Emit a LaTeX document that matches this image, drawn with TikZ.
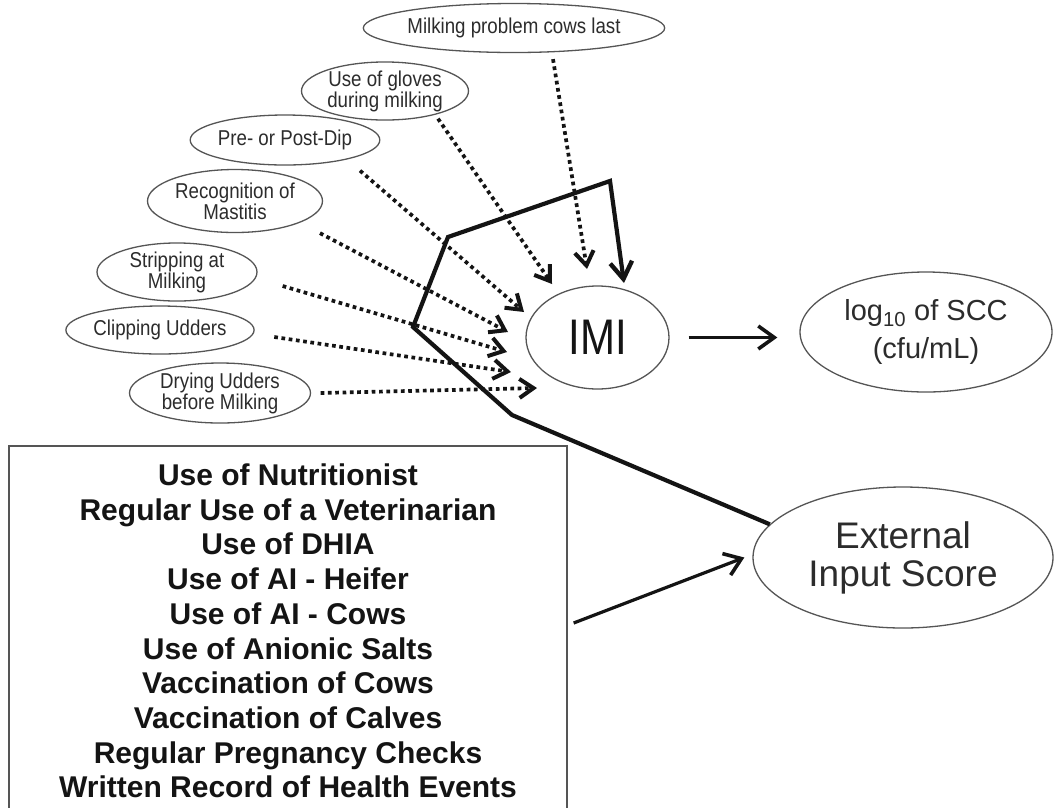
\documentclass[tikz,border=0pt]{standalone}
\usepackage{fontspec}
\setmainfont{Liberation Sans}
\newfontfamily\narrowfont[FakeStretch=0.87]{Liberation Sans}
\newfontfamily\imifont[FakeStretch=0.84]{Liberation Sans}
\usetikzlibrary{shapes.geometric,arrows.meta}
\definecolor{ink}{HTML}{141414}
\definecolor{txt}{HTML}{2C2C2C}
\definecolor{rim}{HTML}{555555}
\begin{document}
\begin{tikzpicture}[x=1pt,y=-1pt,
  oval/.style={ellipse, draw=rim, line width=1.3pt, inner sep=0pt, text=txt, align=center},
  lab/.style={oval, font=\narrowfont\fontsize{21.5}{21}\selectfont},
  dotarrow/.style={draw=ink, line width=3.7pt, dash pattern=on 3.7pt off 3.6pt,
    -{Straight Barb[length=14pt,width=19pt,line width=4pt]}},
  thickpath/.style={draw=ink, line width=4.2pt, line join=miter,
    -{Straight Barb[length=17pt,width=22pt,line width=4.4pt]}},
  solidarrow/.style={draw=ink, line width=3.2pt,
    -{Straight Barb[length=16pt,width=23pt,line width=3.6pt]}},
  listbox/.style={draw=rim, line width=1.3pt, inner sep=0pt, align=center, text=ink,
    font=\bfseries\fontsize{30}{34.7}\selectfont}
]
\useasboundingbox (0,0) rectangle (1054,807);
\clip (0,0) rectangle (1054,807);
\fill[white] (0,0) rectangle (1054,807);

% factor nodes
\node[lab, minimum width=237pt, minimum height=49pt] (mp) at (514,28) {Milking problem cows last};
\node[lab, minimum width=167pt, minimum height=58pt] (gl) at (385,91) {Use of gloves\\during milking};
\node[lab, minimum width=165pt, minimum height=50pt] (pd) at (285,140) {Pre- or Post-Dip};
\node[lab, minimum width=175pt, minimum height=63pt] (rc) at (235,201) {Recognition of\\Mastitis};
\node[lab, minimum width=160pt, minimum height=58pt] (st) at (177,272) {Stripping at\\Milking};
\node[lab, minimum width=163pt, minimum height=48pt] (cl) at (160,330) {Clipping Udders};
\node[lab, minimum width=181pt, minimum height=60pt] (dr) at (220,393) {Drying Udders\\before Milking};

% main nodes
\node[oval, minimum width=143pt, minimum height=103pt, text=ink,
  font=\imifont\fontsize{50}{50}\selectfont] (imi) at (597.5,337.5) {IMI};
\node[oval, minimum width=252pt, minimum height=120pt,
  font=\fontsize{29}{38}\selectfont] (scc) at (926,332) {log\textsubscript{10} of SCC\\(cfu/mL)};
\node[oval, minimum width=300pt, minimum height=141pt,
  font=\fontsize{37}{38}\selectfont] (ext) at (903,557.5) {External\\Input Score};

\node[listbox, minimum width=558pt, minimum height=370pt] (box) at (288,631) {Use of Nutritionist\\
Regular Use of a Veterinarian\\
Use of DHIA\\
Use of AI - Heifer\\
Use of AI - Cows\\
Use of Anionic Salts\\
Vaccination of Cows\\
Vaccination of Calves\\
Regular Pregnancy Checks\\
Written Record of Health Events};

% arrow tip coordinates near IMI
\coordinate (tmp) at (587,269);
\coordinate (tgl) at (552,284);
\coordinate (tpd) at (524,312);
\coordinate (trc) at (508,332);
\coordinate (tst) at (507,352);
\coordinate (tcl) at (511,372);
\coordinate (tdr) at (537,388);
\coordinate (tthick) at (624,283);

% dotted connectors
\draw[dotarrow] ([shift={(39,6)}]mp.south) -- (tmp);
\draw[dotarrow] ([shift={(53,-2)}]gl.south) -- (tgl);
\draw[dotarrow] ([shift={(75,5)}]pd.south) -- (tpd);
\draw[dotarrow] ([shift={(85,0)}]rc.south) -- (trc);
\draw[dotarrow] ([shift={(25,14)}]st.east) -- (tst);
\draw[dotarrow] ([shift={(19.5,7)}]cl.east) -- (tcl);
\draw[dotarrow] ([shift={(9.5,0)}]dr.east) -- (tdr);

% thick path from External Input Score
\draw[thickpath] (ext.166) -- (512,415) -- (413,327) -- (448,237) -- (610,181) -- (tthick);

% IMI -> SCC
\draw[solidarrow, shorten <=19pt, shorten >=22pt] (imi.east) -- (imi.east -| scc.west);

% box -> External
\draw[solidarrow] ([shift={(6,-8)}]box.east) -- ([xshift=-8pt]ext.west);
\end{tikzpicture}
\end{document}
